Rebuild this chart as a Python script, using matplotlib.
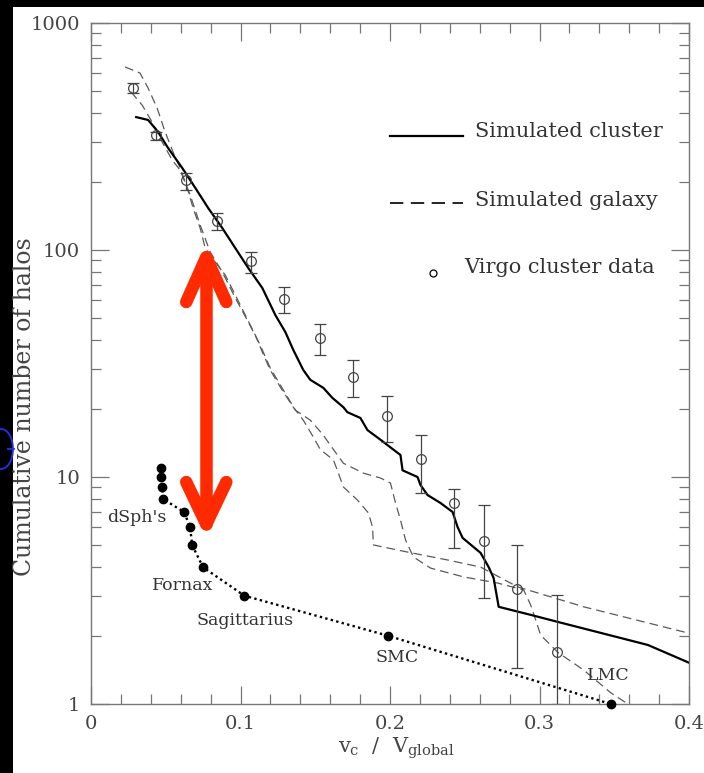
import matplotlib
matplotlib.use("Agg")
import matplotlib.pyplot as plt
from matplotlib.patches import Rectangle, Ellipse
from matplotlib.lines import Line2D
import numpy as np

plt.rcParams['font.family'] = 'DejaVu Serif'
plt.rcParams['mathtext.fontset'] = 'dejavuserif'

# simulated cluster subhalo counts (solid)
cluster_x = [0.0302, 0.0382, 0.0449, 0.0516, 0.0610, 0.0697, 0.0784, 0.0878, 0.0965,
             0.1052, 0.1146, 0.1233, 0.1300, 0.1353, 0.1420, 0.1467, 0.1554, 0.1615,
             0.1688, 0.1715, 0.1802, 0.1849, 0.1936, 0.2070, 0.2084, 0.2184, 0.2204,
             0.2251, 0.2338, 0.2419, 0.2452, 0.2486, 0.2606, 0.2660, 0.2693, 0.2727,
             0.2941, 0.3122, 0.3725, 0.4000]
cluster_n = [385, 374, 331, 281, 230, 188, 153, 125, 102,
             83.3, 68.0, 51.7, 43.5, 36.3, 29.6, 26.8, 24.7, 22.3,
             20.3, 19.3, 18.2, 16.1, 14.6, 12.5, 10.7, 10.0, 9.22,
             8.33, 7.68, 7.01, 6.02, 5.39, 4.63, 4.01, 3.59, 2.68,
             2.47, 2.30, 1.82, 1.52]

# simulated galaxy, first halo (dashed)
galaxy1_x = [0.0228, 0.0328, 0.0382, 0.0442, 0.0496, 0.0549, 0.0596, 0.0643, 0.0683,
             0.0730, 0.0764, 0.0831, 0.0898, 0.0965, 0.1032, 0.1099, 0.1146, 0.1199,
             0.1266, 0.1353, 0.1420, 0.1487, 0.1534, 0.1621, 0.1648, 0.1688, 0.1782,
             0.1856, 0.1883, 0.1889, 0.2117, 0.2385, 0.2606, 0.2854, 0.3296, 0.4000]
galaxy1_n = [640, 602, 517, 422, 331, 270, 230, 188, 153,
             125, 102, 88.5, 77.6, 63.4, 51.7, 42.2, 35.5, 29.6,
             24.9, 20.3, 17.8, 15.0, 13.2, 11.9, 10.7, 9.04, 7.92,
             6.94, 6.02, 5.02, 4.67, 4.31, 4.01, 3.28, 2.68, 2.05]

# simulated galaxy, second halo (dashed)
galaxy2_x = [0.0268, 0.0342, 0.0409, 0.0476, 0.0543, 0.0596, 0.0663, 0.0730, 0.0797,
             0.0878, 0.0965, 0.1052, 0.1132, 0.1199, 0.1286, 0.1367, 0.1467, 0.1554,
             0.1601, 0.1688, 0.1822, 0.1936, 0.2003, 0.2037, 0.2070, 0.2104, 0.2157,
             0.2271, 0.2492, 0.2720, 0.2894, 0.2941, 0.2975, 0.3008, 0.3122, 0.3296,
             0.3477, 0.3591]
galaxy2_n = [497, 435, 366, 299, 249, 225, 175, 129, 98,
             80, 61.5, 48.2, 38.1, 30.2, 24.2, 19.7, 17.8, 15.3,
             13.8, 11.5, 10.4, 9.9, 9.41, 7.68, 6.47, 5.28, 4.44,
             3.97, 3.63, 3.41, 3.18, 2.73, 2.34, 2.01, 1.69, 1.41,
             1.12, 1.0]

# Virgo cluster galaxies with error ranges
virgo_x = [0.028, 0.0436, 0.0634, 0.0845, 0.107, 0.129, 0.153,
           0.175, 0.1977, 0.221, 0.243, 0.2626, 0.285, 0.312]
virgo_n = [517, 321, 203, 134, 89.5, 60.8, 41, 27.6, 18.6, 12.0, 7.7, 5.2, 3.2, 1.69]
virgo_lo = [492, 305, 184, 122, 79, 52.8, 34.5, 22.5, 14.3, 8.5, 4.87, 2.93, 1.44, 1.0]
virgo_hi = [544, 331, 218, 146, 98, 68.7, 47.2, 32.8, 22.7, 15.3, 8.85, 7.53, 5.02, 3.02]

# Milky Way satellites
sat_x = [0.0469, 0.0469, 0.0476, 0.0482, 0.0623, 0.0663, 0.0677, 0.075, 0.1026, 0.1985, 0.3477]
sat_n = [11, 10, 9, 8, 7, 6, 5, 4, 3, 2, 1]
sat_names = {"dSph's": (0.0107, 6.6), 'Fornax': (0.0405, 3.34),
             'Sagittarius': (0.0705, 2.34), 'SMC': (0.1905, 1.61), 'LMC': (0.332, 1.33)}

# gap arrow between simulation and satellites
arrow_x = 0.0771
arrow_top, arrow_bottom = 93.0, 6.2
arrow_wing_dx = 0.0134
arrow_top_wing, arrow_bottom_wing = 59.0, 9.5

fig = plt.figure(figsize=(7.04, 7.73), dpi=100, facecolor='black')
fig.add_artist(Rectangle((13 / 704, 0), 1, 1 - 7 / 773, transform=fig.transFigure,
                         facecolor='white', edgecolor='none', zorder=0))
fig.add_artist(Ellipse((1 / 704, 1 - 449 / 773), 24 / 704, 40 / 773, transform=fig.transFigure,
                       facecolor='none', edgecolor='#2233ee', lw=1.3, zorder=1))
fig.add_artist(Line2D([8 / 704, 14 / 704], [1 - 449 / 773] * 2, transform=fig.transFigure,
                      color='#2233ee', lw=1.3, zorder=1))

ax = fig.add_axes([91 / 704, 1 - 704 / 773, 598 / 704, 681 / 773])
ax.set_facecolor('none')

grey = '#444444'
ax.plot(galaxy1_x, galaxy1_n, color='#5a5a5a', lw=0.9, ls=(0, (7, 4)))
ax.plot(galaxy2_x, galaxy2_n, color='#5a5a5a', lw=0.9, ls=(0, (7, 4)))
ax.plot(cluster_x, cluster_n, color='black', lw=1.6)

vn = np.array(virgo_n)
yerr = [vn - np.array(virgo_lo), np.array(virgo_hi) - vn]
ax.errorbar(virgo_x, virgo_n, yerr=yerr, fmt='o', mfc='none', mec=grey, ms=7,
            mew=0.9, ecolor=grey, elinewidth=0.9, capsize=4, capthick=0.9)

ax.plot(sat_x, sat_n, color='black', ls=(0, (1, 1.4)), lw=1.7)
ax.plot(sat_x, sat_n, 'o', color='black', ms=6, clip_on=False, zorder=5)
for name, (tx, ty) in sat_names.items():
    ax.text(tx, ty, name, fontsize=12.5, color='#333333', va='center')

# red double-headed arrow
red = '#ff2a00'
akw = dict(color=red, lw=9, solid_capstyle='round', solid_joinstyle='round', zorder=6)
ax.plot([arrow_x, arrow_x], [arrow_bottom, arrow_top], **akw)
ax.plot([arrow_x - arrow_wing_dx, arrow_x, arrow_x + arrow_wing_dx],
        [arrow_top_wing, arrow_top, arrow_top_wing], **akw)
ax.plot([arrow_x - arrow_wing_dx, arrow_x, arrow_x + arrow_wing_dx],
        [arrow_bottom_wing, arrow_bottom, arrow_bottom_wing], **akw)

# key
tr = ax.transAxes
ax.plot([0.500, 0.622], [0.834, 0.834], color='black', lw=1.6, transform=tr)
ax.text(0.642, 0.8326, 'Simulated cluster', fontsize=15, color='#333333', transform=tr)
ax.plot([0.500, 0.622], [0.736, 0.736], color='black', lw=1.2, ls=(0, (8, 4.5)), transform=tr)
ax.text(0.642, 0.7313, 'Simulated galaxy', fontsize=15, color='#333333', transform=tr)
ax.plot([0.572], [0.633], 'o', mfc='none', mec='black', ms=5, mew=0.9, transform=tr)
ax.text(0.625, 0.6329, 'Virgo cluster data', fontsize=15, color='#333333', transform=tr)

ax.set_yscale('log')
ax.set_xlim(0, 0.4)
ax.set_ylim(1, 1000)
ax.set_xticks([0, 0.1, 0.2, 0.3, 0.4])
ax.set_xticklabels(['0', '0.1', '0.2', '0.3', '0.4'])
ax.set_xticks(np.arange(0, 0.41, 0.02), minor=True)
ax.set_yticks([1, 10, 100, 1000])
ax.set_yticklabels(['1', '10', '100', '1000'])
ax.tick_params(which='both', direction='in', top=True, right=True, colors='#777777',
               labelcolor='#444444', labelsize=14, width=0.9)
ax.tick_params(which='major', length=13, pad=8)
ax.tick_params(which='minor', length=7)
for s in ax.spines.values():
    s.set_color('#777777')
    s.set_linewidth(1.0)

fig.text(25 / 704, 1 - 407 / 773, 'Cumulative number of halos', rotation=90,
         fontsize=17, color='#444444', ha='center', va='center')
fig.text(396 / 704, 1 - 753 / 773, r'$\mathrm{v_c}$  /  $\mathrm{V_{global}}$',
         fontsize=15, color='#444444', ha='center', va='baseline')

fig.savefig('out.png', dpi=100, facecolor=fig.get_facecolor())
